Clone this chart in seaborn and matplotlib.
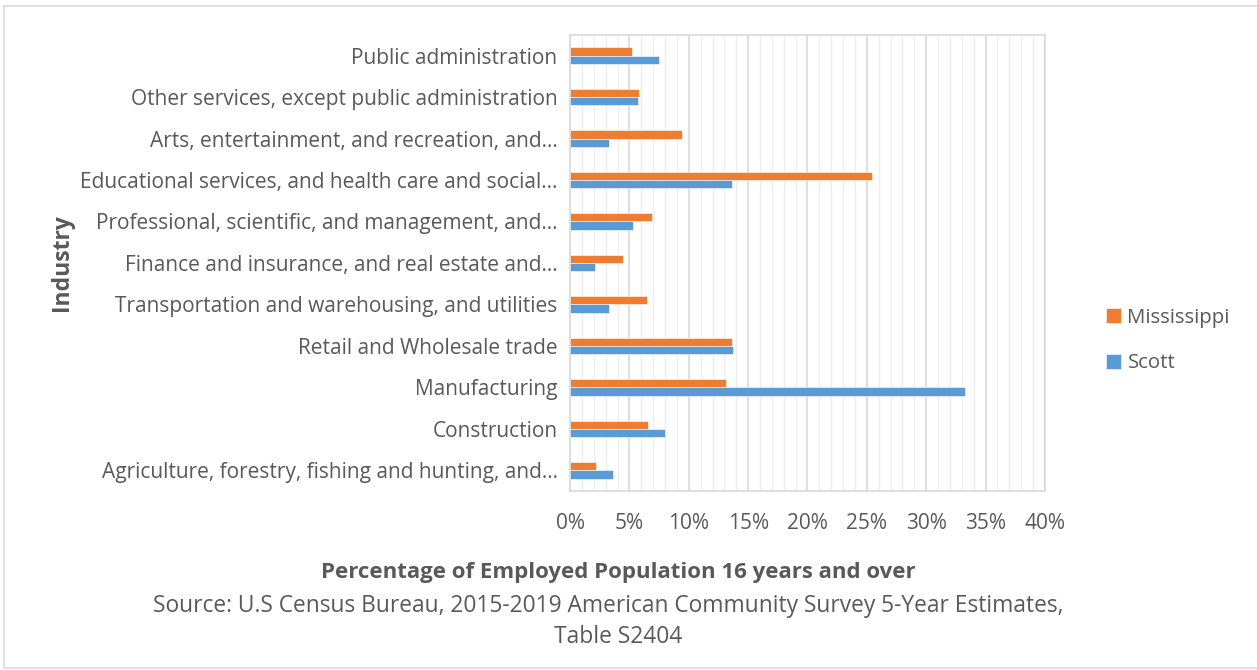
import matplotlib
matplotlib.use("Agg")
import matplotlib.pyplot as plt
from matplotlib.patches import Rectangle
from matplotlib.ticker import MultipleLocator, PercentFormatter
import pandas as pd
import seaborn as sns

industries = [
    "Public administration",
    "Other services, except public administration",
    "Arts, entertainment, and recreation, and…",
    "Educational services, and health care and social…",
    "Professional, scientific, and management, and…",
    "Finance and insurance, and real estate and…",
    "Transportation and warehousing, and utilities",
    "Retail and Wholesale trade",
    "Manufacturing",
    "Construction",
    "Agriculture, forestry, fishing and hunting, and…",
]
mississippi = [5.2, 5.8, 9.4, 25.4, 6.9, 4.5, 6.5, 13.6, 13.1, 6.6, 2.2]
scott = [7.5, 5.7, 3.3, 13.6, 5.3, 2.1, 3.3, 13.7, 33.3, 8.0, 3.6]
series = ["Mississippi", "Scott"]
colors = ["#ED7D31", "#5B9BD5"]

df = pd.DataFrame({
    "Industry": industries * 2,
    "Share": mississippi + scott,
    "Area": [series[0]] * len(industries) + [series[1]] * len(industries),
})

sns.set_theme(style="white")
plt.rcParams["font.family"] = ["Open Sans", "DejaVu Sans"]
text_color = "#595959"

fig = plt.figure(figsize=(12.57, 6.70), dpi=100)
ax = fig.add_axes([0.4535, 0.267, 0.3778, 0.681])

sns.barplot(
    data=df, y="Industry", x="Share", hue="Area",
    order=industries, hue_order=series, palette=colors,
    orient="h", width=0.4, saturation=1, ax=ax,
    edgecolor="white", linewidth=0.4,
)

ax.set_xlim(0, 40)
ax.xaxis.set_major_locator(MultipleLocator(5))
ax.xaxis.set_minor_locator(MultipleLocator(1))
ax.xaxis.set_major_formatter(PercentFormatter(decimals=0))
ax.grid(which="major", axis="x", color="#d9d9d9", linewidth=1.2)
ax.grid(which="minor", axis="x", color="#eeeeee", linewidth=1.0)
ax.set_axisbelow(True)
for s in ax.spines.values():
    s.set_color("#d9d9d9")
    s.set_linewidth(1.2)

ax.tick_params(axis="both", which="both", length=0, labelsize=15, colors=text_color)
ax.tick_params(axis="y", pad=9)
ax.tick_params(axis="x", pad=16)

ax.set_ylabel("Industry", fontsize=16.5, fontweight="bold", color=text_color)
ax.yaxis.set_label_coords(-1.045, 0.5)
ax.set_xlabel("")

ax.legend(
    loc="center left", bbox_to_anchor=(1.09, 0.33), frameon=False,
    fontsize=14.7, handlelength=0.75, handleheight=0.75, labelspacing=1.25,
    handletextpad=0.3, labelcolor=text_color,
)

fig.text(0.492, 0.146, "Percentage of Employed Population 16 years and over",
         ha="center", va="center", fontsize=16, fontweight="bold", color=text_color)
fig.text(0.484, 0.096,
         "Source: U.S Census Bureau, 2015-2019 American Community Survey 5-Year Estimates,",
         ha="center", va="center", fontsize=16.4, color=text_color)
fig.text(0.492, 0.049, "Table S2404",
         ha="center", va="center", fontsize=16.4, color=text_color)

fig.add_artist(Rectangle((0.003, 0.003), 1.2, 0.988, transform=fig.transFigure,
                         fill=False, edgecolor="#d9d9d9", linewidth=1.2))

fig.savefig("out.png", dpi=100, facecolor="white")
